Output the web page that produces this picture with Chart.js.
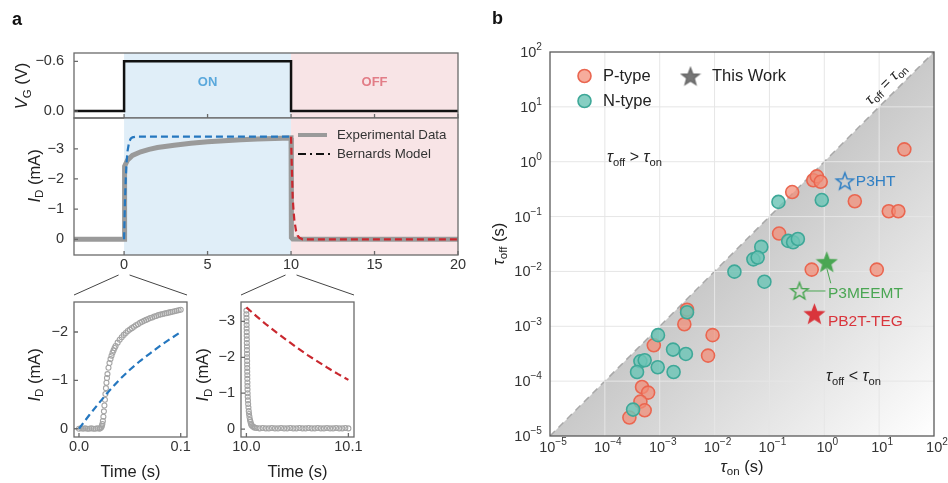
<!DOCTYPE html>
<html>
<head>
<meta charset="utf-8">
<script src="https://cdn.jsdelivr.net/npm/chart.js@4.4.1/dist/chart.umd.min.js"></script>
<style>
  html, body { margin: 0; padding: 0; background: #fff; }
  #wrap { position: relative; width: 948px; height: 483px; background: #fff; }
  #wrap canvas { position: absolute; left: 0; top: 0; }
</style>
</head>
<body>
<div id="wrap">
  <canvas id="gate" width="948" height="483"></canvas>
  <canvas id="drain" width="948" height="483"></canvas>
  <canvas id="zoomOn" width="948" height="483"></canvas>
  <canvas id="zoomOff" width="948" height="483"></canvas>
  <canvas id="tau" width="948" height="483"></canvas>
</div>
<script>
// ---- panel a: gate pulse and drain current ----
const timeTicks = [0, 5, 10, 15, 20];
const gateTicks = [-0.6, 0];
const currentTicks = [-3, -2, -1, 0];
const onWindow = [0, 10];
const offWindow = [10, 20];

const gateTime = [-3, 0, 0, 10, 10, 20];
const gateVolt = [0, 0, -0.6, -0.6, 0, 0];

const expTime = [-3, -0.02, 0, 0.01, 0.05, 0.2, 0.5, 1, 1.5, 2, 3, 4, 5, 6, 7, 8, 9, 10, 10.02, 10.1, 12, 16, 20];
const expCurrent = [0, 0, 0, -2.2, -2.42, -2.62, -2.78, -2.9, -2.98, -3.04, -3.12, -3.18, -3.23, -3.27, -3.3, -3.32, -3.34, -3.36, -0.06, -0.01, 0, 0, 0];

const modelOnTime = [0, 0.05, 0.1, 0.15, 0.2, 0.3, 0.4, 0.5, 0.7, 1, 10];
const modelOnCurrent = [0, -1.22, -2.0, -2.55, -2.9, -3.22, -3.34, -3.38, -3.4, -3.4, -3.4];
const modelOffTime = [10, 10.05, 10.1, 10.15, 10.2, 10.3, 10.4, 10.5, 10.7, 20];
const modelOffCurrent = [-3.4, -2.33, -1.37, -0.95, -0.62, -0.28, -0.12, -0.05, 0, 0];

// zoomed views, [time, current]
const zoomOnTicksX = [0, 0.1];
const zoomOnTicksY = [-2, -1, 0];
const zoomOnExp = [[0,0],[0.002,-0.01],[0.004,0],[0.006,-0.01],[0.008,0],[0.010,0],[0.012,-0.01],[0.014,0],[0.016,0],[0.018,-0.01],[0.020,0],[0.021,-0.01],[0.022,-0.03],[0.0225,-0.06],[0.023,-0.1],[0.0235,-0.16],[0.024,-0.25],[0.0245,-0.36],[0.025,-0.48],[0.0255,-0.6],[0.026,-0.72],[0.0265,-0.84],[0.027,-0.95],[0.0275,-1.05],[0.028,-1.13],[0.029,-1.26],[0.030,-1.36],[0.031,-1.44],[0.032,-1.51],[0.033,-1.57],[0.034,-1.62],[0.035,-1.67],[0.036,-1.71],[0.038,-1.78],[0.040,-1.84],[0.042,-1.89],[0.044,-1.94],[0.046,-1.98],[0.048,-2.02],[0.050,-2.05],[0.052,-2.08],[0.054,-2.11],[0.056,-2.14],[0.058,-2.16],[0.060,-2.19],[0.062,-2.21],[0.064,-2.23],[0.066,-2.25],[0.068,-2.27],[0.070,-2.29],[0.072,-2.30],[0.074,-2.32],[0.076,-2.33],[0.078,-2.35],[0.080,-2.36],[0.082,-2.37],[0.084,-2.38],[0.086,-2.39],[0.088,-2.40],[0.090,-2.41],[0.092,-2.42],[0.094,-2.43],[0.096,-2.44],[0.098,-2.45],[0.100,-2.46]];
const zoomOnModel = [[0,0],[0.01,-0.28],[0.02,-0.54],[0.03,-0.79],[0.04,-1.02],[0.05,-1.22],[0.06,-1.4],[0.07,-1.56],[0.08,-1.72],[0.09,-1.86],[0.1,-2.0]];

const zoomOffTicksX = [10, 10.1];
const zoomOffTicksY = [-3, -2, -1, 0];
const zoomOffExp = [[10.0,-3.3],[10.0,-3.2],[10.0001,-3.1],[10.0001,-3.0],[10.0002,-2.9],[10.0002,-2.8],[10.0003,-2.7],[10.0003,-2.6],[10.0004,-2.5],[10.0004,-2.4],[10.0005,-2.3],[10.0005,-2.2],[10.0006,-2.1],[10.0006,-2.0],[10.0007,-1.9],[10.0007,-1.8],[10.0008,-1.7],[10.0008,-1.6],[10.0009,-1.5],[10.0009,-1.4],[10.001,-1.3],[10.001,-1.2],[10.0011,-1.1],[10.0012,-1.0],[10.0013,-0.9],[10.0015,-0.8],[10.0017,-0.7],[10.002,-0.6],[10.0023,-0.5],[10.0026,-0.42],[10.003,-0.34],[10.0035,-0.26],[10.004,-0.2],[10.0045,-0.15],[10.005,-0.11],[10.006,-0.08],[10.007,-0.06],[10.008,-0.04],[10.01,-0.03],[10.013,-0.02],[10.016,-0.03],[10.019,-0.02],[10.022,-0.02],[10.025,-0.03],[10.028,-0.02],[10.031,-0.02],[10.034,-0.03],[10.037,-0.02],[10.04,-0.02],[10.043,-0.03],[10.046,-0.02],[10.049,-0.02],[10.052,-0.03],[10.055,-0.02],[10.058,-0.02],[10.061,-0.03],[10.064,-0.02],[10.067,-0.02],[10.07,-0.03],[10.073,-0.02],[10.076,-0.02],[10.079,-0.03],[10.082,-0.02],[10.085,-0.02],[10.088,-0.03],[10.091,-0.02],[10.094,-0.02],[10.097,-0.03],[10.1,-0.02]];
const zoomOffModel = [[10.0,-3.39],[10.01,-3.14],[10.02,-2.90],[10.03,-2.68],[10.04,-2.47],[10.05,-2.26],[10.06,-2.06],[10.07,-1.88],[10.08,-1.70],[10.09,-1.53],[10.1,-1.37]];

// ---- panel b: tau_off vs tau_on (s) ----
const decadeTicks = [1e-5, 1e-4, 1e-3, 1e-2, 1e-1, 1, 10, 100];
const equalLine = [1e-5, 100];
const pTypeOn  = [28.8, 0.63, 0.73, 0.86, 0.26, 3.6, 15, 22.4, 0.15, 0.59, 9.06, 0.00315, 0.00281, 0.0092, 0.00078, 0.0076, 0.000476, 0.000614, 0.000445, 0.000532, 0.00028];
const pTypeOff = [1.68, 0.46, 0.54, 0.43, 0.28, 0.19, 0.125, 0.125, 0.049, 0.0108, 0.0108, 0.002, 0.00109, 0.00069, 0.00045, 0.000292, 0.0000783, 0.0000618, 0.0000424, 0.0000294, 0.0000217];
const nTypeOn  = [0.146, 0.9, 0.22, 0.27, 0.33, 0.071, 0.051, 0.061, 0.023, 0.081, 0.00315, 0.00093, 0.00175, 0.003, 0.000445, 0.000532, 0.00092, 0.000386, 0.00179, 0.000327];
const nTypeOff = [0.185, 0.2, 0.036, 0.034, 0.039, 0.028, 0.0166, 0.0179, 0.0099, 0.0065, 0.0018, 0.00069, 0.000376, 0.000313, 0.00023, 0.00024, 0.000179, 0.000147, 0.000147, 0.0000303];
const workNames = ['P3HT', 'P3MEEMT', 'P3MEEMT', 'PB2T-TEG'];
const workOn  = [2.37, 1.11, 0.353, 0.66];
const workOff = [0.44, 0.0147, 0.0044, 0.00166];

const FONT = "'Liberation Sans', Arial, Helvetica, sans-serif";
const W = 948, H = 483;
Chart.defaults.font.family = FONT;
Chart.defaults.font.size = 14.5;
Chart.defaults.color = '#333';
Chart.defaults.animation = false;
Chart.defaults.plugins.legend.display = false;
Chart.defaults.plugins.tooltip.enabled = false;

const blue = '#2577bf', red = '#c9282f', gray = '#9a9a9a';
const fmt = (v, d) => (v < 0 ? '\u2212' : '') + Math.abs(v).toFixed(d);
const xy = (xs, ys) => xs.map((x, i) => ({ x, y: ys[i] }));
const pairs = p => p.map(([x, y]) => ({ x, y }));
const fixTicks = list => s => { s.ticks = list.map(v => ({ value: v })); };

// text with italic / subscript / superscript parts: [text, style]
function rich(ctx, parts, x, y, size, align, color) {
  ctx.save();
  ctx.fillStyle = color || '#222';
  ctx.textBaseline = 'middle';
  ctx.textAlign = 'left';
  const items = parts.map(([t, st]) => {
    const small = st.includes('s') || st.includes('p');
    const sz = small ? size * 0.7 : size;
    const font = (st.includes('i') ? 'italic ' : '') + (st.includes('b') ? 'bold ' : '') + sz + 'px ' + FONT;
    ctx.font = font;
    const dy = st.includes('s') ? size * 0.3 : st.includes('p') ? -size * 0.38 : 0;
    return { t, font, dy, w: ctx.measureText(t).width };
  });
  const total = items.reduce((s, it) => s + it.w, 0);
  let cx = align === 'center' ? x - total / 2 : align === 'right' ? x - total : x;
  items.forEach(it => { ctx.font = it.font; ctx.fillText(it.t, cx, y + it.dy); cx += it.w; });
  ctx.restore();
}
function richTurned(ctx, parts, x, y, size, angle, color) {
  ctx.save();
  ctx.translate(x, y);
  ctx.rotate(angle);
  rich(ctx, parts, 0, 0, size, 'center', color);
  ctx.restore();
}

function layoutFor(area, xH) {
  return { autoPadding: false, padding: { left: 0, top: area.top, right: W - area.right, bottom: H - area.bottom - xH } };
}
function linScale(min, max, ticks, opts) {
  return Object.assign({
    type: 'linear', min, max,
    afterBuildTicks: fixTicks(ticks),
    grid: { display: false, drawTicks: false },
    border: { display: false }
  }, opts);
}

// box + short inward ticks
const framePlugin = {
  id: 'frame',
  afterDraw(chart) {
    const { ctx, chartArea: a, scales } = chart;
    ctx.save();
    ctx.strokeStyle = '#6a6a6a';
    ctx.lineWidth = 1.3;
    ctx.strokeRect(a.left, a.top, a.right - a.left, a.bottom - a.top);
    ctx.beginPath();
    scales.x.ticks.forEach(t => { const p = scales.x.getPixelForValue(t.value); ctx.moveTo(p, a.bottom); ctx.lineTo(p, a.bottom - 4); });
    scales.y.ticks.forEach(t => { const p = scales.y.getPixelForValue(t.value); ctx.moveTo(a.left, p); ctx.lineTo(a.left + 4, p); });
    ctx.stroke();
    ctx.restore();
  }
};

const phasePlugin = {
  id: 'phases',
  beforeDatasetsDraw(chart) {
    const { ctx, chartArea: a, scales: { x } } = chart;
    const band = (w, c) => {
      const l = x.getPixelForValue(w[0]), r = x.getPixelForValue(w[1]);
      ctx.fillStyle = c;
      ctx.fillRect(l, a.top, r - l, a.bottom - a.top);
    };
    ctx.save();
    band(onWindow, '#e0eef8');
    band(offWindow, '#f8e4e6');
    ctx.restore();
  }
};

// ---- gate voltage ----
const gateArea = { left: 74, right: 458, top: 53, bottom: 118 };
new Chart(document.getElementById('gate'), {
  type: 'line',
  data: { datasets: [{ data: xy(gateTime, gateVolt), borderColor: '#111', borderWidth: 2.5, pointRadius: 0, tension: 0 }] },
  options: {
    responsive: false, devicePixelRatio: 1,
    layout: layoutFor(gateArea, 0),
    scales: {
      x: linScale(-3, 20, timeTicks, { ticks: { display: false }, afterFit: s => { s.height = 0; } }),
      y: linScale(-0.7, 0.083, gateTicks, { reverse: true, ticks: { padding: 10, callback: v => fmt(v, 1) }, afterFit: s => { s.width = gateArea.left; } })
    }
  },
  plugins: [phasePlugin, framePlugin, {
    id: 'gateText',
    afterDraw(chart) {
      const { ctx, chartArea: a, scales: { x } } = chart;
      const mid = w => (x.getPixelForValue(w[0]) + x.getPixelForValue(w[1])) / 2;
      rich(ctx, [['ON', 'b']], mid(onWindow), a.top + 29, 13, 'center', '#5aa8dc');
      rich(ctx, [['OFF', 'b']], mid(offWindow), a.top + 29, 13, 'center', '#e27d87');
      richTurned(ctx, [['V', 'i'], ['G', 's'], [' (V)', '']], 22.5, 86, 16.5, -Math.PI / 2, '#222');
      rich(ctx, [['a', 'b']], 12, 20, 18, 'left', '#111');
    }
  }]
});

// ---- drain current ----
const drainArea = { left: 74, right: 458, top: 118, bottom: 255 };
const drainChart = new Chart(document.getElementById('drain'), {
  type: 'line',
  data: { datasets: [
    { data: xy(modelOnTime, modelOnCurrent), borderColor: blue, borderWidth: 2.2, borderDash: [7, 4], pointRadius: 0, order: 0 },
    { data: xy(modelOffTime, modelOffCurrent), borderColor: red, borderWidth: 2.2, borderDash: [7, 4], pointRadius: 0, order: 0 },
    { data: xy(expTime, expCurrent), borderColor: gray, borderWidth: 5, pointRadius: 0, order: 2 }
  ] },
  options: {
    responsive: false, devicePixelRatio: 1,
    layout: layoutFor(drainArea, 26),
    scales: {
      x: linScale(-3, 20, timeTicks, { ticks: { padding: 1 }, afterFit: s => { s.height = 26; } }),
      y: linScale(-4.02, 0.52, currentTicks, { reverse: true, ticks: { padding: 10, callback: v => fmt(v, 0) }, afterFit: s => { s.width = drainArea.left; } })
    }
  },
  plugins: [phasePlugin, framePlugin, {
    id: 'drainText',
    afterDraw(chart) {
      const { ctx, chartArea: a } = chart;
      ctx.save();
      ctx.strokeStyle = gray; ctx.lineWidth = 4;
      ctx.beginPath(); ctx.moveTo(a.left + 224, a.top + 17); ctx.lineTo(a.left + 253, a.top + 17); ctx.stroke();
      ctx.strokeStyle = '#111'; ctx.lineWidth = 2; ctx.setLineDash([8, 4, 2, 4]);
      ctx.beginPath(); ctx.moveTo(a.left + 224, a.top + 36); ctx.lineTo(a.left + 256, a.top + 36); ctx.stroke();
      ctx.restore();
      rich(ctx, [['Experimental Data', '']], a.left + 263, a.top + 17, 13.3, 'left', '#333');
      rich(ctx, [['Bernards Model', '']], a.left + 263, a.top + 36, 13.3, 'left', '#333');
      richTurned(ctx, [['I', 'i'], ['D', 's'], [' (mA)', '']], 35, 176, 16.5, -Math.PI / 2, '#222');
    }
  }]
});

// ---- zoomed insets ----
function insetPlugin(anchor, titleX) {
  return {
    id: 'inset',
    afterDraw(chart) {
      const { ctx, chartArea: a } = chart;
      const p = drainChart.scales.x.getPixelForValue(anchor);
      ctx.save();
      ctx.strokeStyle = '#444'; ctx.lineWidth = 1;
      ctx.beginPath();
      ctx.moveTo(a.left, a.top - 7); ctx.lineTo(p - 5.5, 275);
      ctx.moveTo(p + 5.5, 275); ctx.lineTo(a.right, a.top - 7);
      ctx.stroke();
      ctx.restore();
      rich(ctx, [['Time (s)', '']], (a.left + a.right) / 2, 472, 16.5, 'center', '#222');
      richTurned(ctx, [['I', 'i'], ['D', 's'], [' (mA)', '']], titleX, 375, 16.5, -Math.PI / 2, '#222');
    }
  };
}
function insetChart(id, area, exp, model, color, xr, yr, xt, yt, anchor, titleX) {
  return new Chart(document.getElementById(id), {
    type: 'line',
    data: { datasets: [
      { data: pairs(model), borderColor: color, borderWidth: 2.2, borderDash: [7, 4], pointRadius: 0, order: 0 },
      { data: pairs(exp), showLine: false, pointRadius: 2.5, pointBackgroundColor: 'rgba(255,255,255,0)', pointBorderColor: '#a4a4a4', pointBorderWidth: 1.1, order: 1 }
    ] },
    options: {
      responsive: false, devicePixelRatio: 1,
      layout: layoutFor(area, 30),
      scales: {
        x: linScale(xr[0], xr[1], xt, { ticks: { padding: 1.5, callback: v => v.toFixed(1) }, afterFit: s => { s.height = 30; } }),
        y: linScale(yr[0], yr[1], yt, { reverse: true, ticks: { padding: 6, callback: v => fmt(v, 0) }, afterFit: s => { s.width = area.left; } })
      }
    },
    plugins: [framePlugin, insetPlugin(anchor, titleX)]
  });
}
insetChart('zoomOn', { left: 74, right: 187, top: 302, bottom: 437 }, zoomOnExp, zoomOnModel, blue,
  [-0.0049, 0.1062], [-2.62, 0.17], zoomOnTicksX, zoomOnTicksY, 0, 35);
insetChart('zoomOff', { left: 241, right: 354, top: 302, bottom: 437 }, zoomOffExp, zoomOffModel, red,
  [9.9947, 10.1055], [-3.54, 0.22], zoomOffTicksX, zoomOffTicksY, 10, 203.5);

// ---- panel b ----
function starImage(r, fill, stroke) {
  const c = document.createElement('canvas');
  const s = Math.ceil(r * 2 + 4);
  c.width = c.height = s;
  const g = c.getContext('2d');
  g.beginPath();
  for (let i = 0; i < 10; i++) {
    const ang = -Math.PI / 2 + i * Math.PI / 5;
    const rr = i % 2 ? r * 0.42 : r;
    g.lineTo(s / 2 + rr * Math.cos(ang), s / 2 + 0.6 + rr * Math.sin(ang));
  }
  g.closePath();
  if (fill) { g.fillStyle = fill; g.fill(); }
  g.strokeStyle = stroke; g.lineWidth = 1.5; g.stroke();
  return c;
}
const green = '#4aa653';
const workStars = [starImage(9, null, '#2f7fc4'), starImage(9.5, green, green), starImage(9, null, green), starImage(9.5, '#d9353c', '#d9353c')];
const workColors = ['#2f7fc4', green, green, '#d9353c'];
const legendStar = starImage(9, '#777', '#6a6a6a');
const pFill = 'rgba(243,140,118,0.72)', pLine = '#ea6650';
const nFill = 'rgba(108,196,182,0.82)', nLine = '#3ea898';

const tauArea = { left: 550, right: 934, top: 52, bottom: 436 };
const supMap = { '-': '\u2212', '0': '0', '1': '1', '2': '2', '3': '3', '4': '4', '5': '5' };
const expParts = v => [['10', ''], [String(Math.round(Math.log10(v))).split('').map(c => supMap[c]).join(''), 'p']];

new Chart(document.getElementById('tau'), {
  type: 'scatter',
  data: { datasets: [
    { type: 'line', data: xy(equalLine, equalLine), showLine: true, fill: 'start',
      backgroundColor: c => {
        const a = c.chart.chartArea;
        if (!a) return '#ddd';
        const g = c.chart.ctx.createLinearGradient((a.left + a.right) / 2, (a.top + a.bottom) / 2, a.right, a.bottom);
        g.addColorStop(0, '#c9c9c9');
        g.addColorStop(1, '#ffffff');
        return g;
      },
      borderColor: '#a8a8a8', borderWidth: 1.5, borderDash: [7, 5], pointRadius: 0, order: 10 },
    { data: xy(pTypeOn, pTypeOff), pointRadius: 6.5, backgroundColor: pFill, borderColor: pLine, borderWidth: 1.6, order: 3 },
    { data: xy(nTypeOn, nTypeOff), pointRadius: 6.5, backgroundColor: nFill, borderColor: nLine, borderWidth: 1.6, order: 2 },
    { data: xy(workOn, workOff), pointStyle: workStars, pointRadius: 10, order: 1 }
  ] },
  options: {
    responsive: false, devicePixelRatio: 1,
    layout: layoutFor(tauArea, 0),
    scales: {
      x: { type: 'logarithmic', min: 1e-5, max: 100, afterBuildTicks: fixTicks(decadeTicks), ticks: { display: false },
           grid: { display: false, drawTicks: false }, border: { display: false }, afterFit: s => { s.height = 0; } },
      y: { type: 'logarithmic', min: 1e-5, max: 100, afterBuildTicks: fixTicks(decadeTicks), ticks: { display: false },
           grid: { display: false, drawTicks: false }, border: { display: false }, afterFit: s => { s.width = tauArea.left; } }
    }
  },
  plugins: [{
    id: 'tauDecor',
    afterDatasetDraw(chart, args) {
      if (args.index !== 0) return;
      const { ctx, chartArea: a, scales: { x, y } } = chart;
      ctx.save();
      ctx.strokeStyle = '#e6e6e6'; ctx.lineWidth = 1;
      ctx.beginPath();
      decadeTicks.slice(1, -1).forEach(v => {
        const px = x.getPixelForValue(v), py = y.getPixelForValue(v);
        ctx.moveTo(px, a.top); ctx.lineTo(px, a.bottom);
        ctx.moveTo(a.left, py); ctx.lineTo(a.right, py);
      });
      ctx.stroke();
      ctx.restore();
    },
    afterDraw(chart) {
      const { ctx, chartArea: a, scales: { x, y } } = chart;
      ctx.save();
      ctx.strokeStyle = '#5a5a5a'; ctx.lineWidth = 1.3;
      ctx.strokeRect(a.left, a.top, a.right - a.left, a.bottom - a.top);
      ctx.restore();
      decadeTicks.forEach(v => {
        rich(ctx, expParts(v), x.getPixelForValue(v) + 3, a.bottom + 12, 14.5, 'center', '#333');
        rich(ctx, expParts(v), a.left - 8, y.getPixelForValue(v) + 1, 14.5, 'right', '#333');
      });
      rich(ctx, [['\u03c4', 'i'], ['on', 's'], [' (s)', '']], (a.left + a.right) / 2, 467, 16.5, 'center', '#222');
      richTurned(ctx, [['\u03c4', 'i'], ['off', 's'], [' (s)', '']], 499, 244, 16.5, -Math.PI / 2, '#222');

      // legend
      ctx.save();
      [[pFill, pLine, a.top + 24], [nFill, nLine, a.top + 49]].forEach(([f, l, yy]) => {
        ctx.beginPath(); ctx.arc(a.left + 34.5, yy, 6.5, 0, Math.PI * 2);
        ctx.fillStyle = f; ctx.fill(); ctx.strokeStyle = l; ctx.lineWidth = 1.6; ctx.stroke();
      });
      ctx.drawImage(legendStar, a.left + 140.5 - legendStar.width / 2, a.top + 24.5 - legendStar.height / 2);
      ctx.restore();
      rich(ctx, [['P-type', '']], a.left + 53, a.top + 24, 16.5, 'left', '#222');
      rich(ctx, [['N-type', '']], a.left + 53, a.top + 49, 16.5, 'left', '#222');
      rich(ctx, [['This Work', '']], a.left + 162, a.top + 24.5, 16.5, 'left', '#222');

      // region labels
      rich(ctx, [['\u03c4', 'i'], ['off', 's'], [' > ', ''], ['\u03c4', 'i'], ['on', 's']], 607, 158, 16, 'left', '#222');
      rich(ctx, [['\u03c4', 'i'], ['off', 's'], [' < ', ''], ['\u03c4', 'i'], ['on', 's']], 826, 377, 16, 'left', '#222');
      richTurned(ctx, [['\u03c4', 'i'], ['off', 's'], [' = ', ''], ['\u03c4', 'i'], ['on', 's']], 886, 84, 15, -Math.PI / 4, '#222');

      // star labels
      const px = workOn.map(v => x.getPixelForValue(v));
      const py = workOff.map(v => y.getPixelForValue(v));
      rich(ctx, [[workNames[0], '']], px[0] + 11, py[0], 15.5, 'left', workColors[0]);
      ctx.save();
      ctx.strokeStyle = green; ctx.lineWidth = 1;
      ctx.beginPath();
      ctx.moveTo(px[2] + 7, py[2]); ctx.lineTo(px[2] + 26, py[2]);
      ctx.moveTo(px[1], py[1] + 6); ctx.lineTo(px[1] + 4, py[1] + 21);
      ctx.stroke();
      ctx.restore();
      rich(ctx, [[workNames[2], '']], px[2] + 28.5, py[2] + 2.5, 15.5, 'left', workColors[2]);
      rich(ctx, [[workNames[3], '']], px[3] + 13.5, py[3] + 8, 15.5, 'left', workColors[3]);
      rich(ctx, [['b', 'b']], 492, 19, 18, 'left', '#111');
    }
  }]
});
</script>
</body>
</html>
